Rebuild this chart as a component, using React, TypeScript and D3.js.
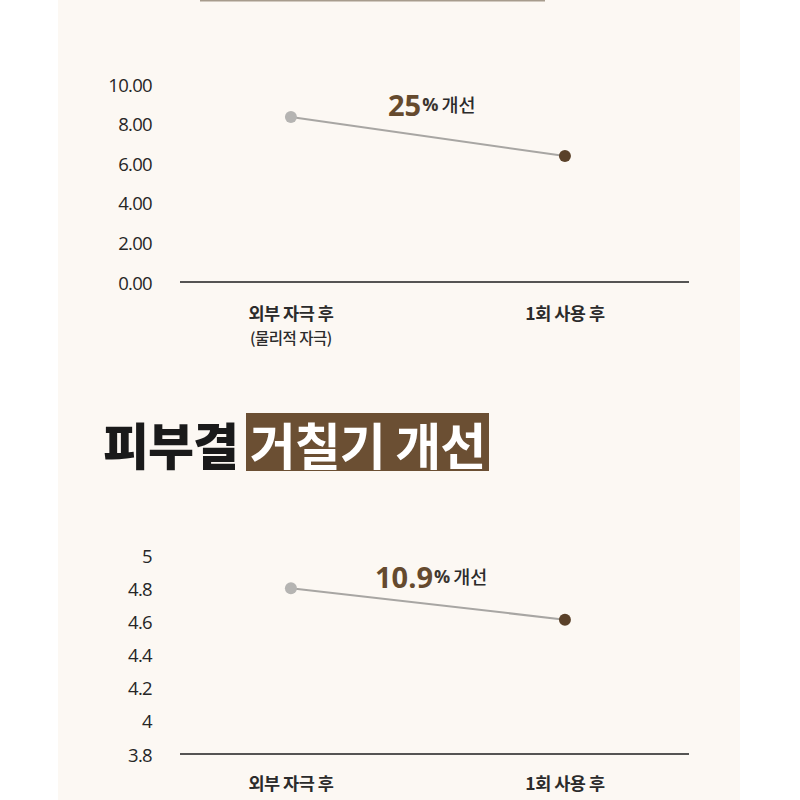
import React from "react";
import * as d3 from "d3";

const categories = ["외부 자극 후", "1회 사용 후"];
const subLabels = ["(물리적 자극)", ""];

const chart1Values = [8.33, 6.36];
const chart1Ticks = [0, 2, 4, 6, 8, 10];
const chart1Label = { num: "25", unit: "%", text: "개선" };

const chart2Values = [4.8, 4.61];
const chart2Ticks = [3.8, 4, 4.2, 4.4, 4.6, 4.8, 5];
const chart2Label = { num: "10.9", unit: "%", text: "개선" };

const titlePlain = "피부결";
const titleBox = "거칠기 개선";

const KR = "'Noto Sans CJK KR', 'Noto Sans', sans-serif";
const NUM = "'Open Sans', 'Noto Sans', sans-serif";
const BROWN = "#654a2e";
const DOT_BROWN = "#5a4129";

type ChartProps = {
  values: number[];
  ticks: number[];
  domain: [number, number];
  yRange: [number, number];
  fmt: (v: number) => string;
  label: { num: string; unit: string; text: string };
  labelX: number;
  labelY: number;
  xLabelY: number;
};

function Chart({ values, ticks, domain, yRange, fmt, label, labelX, labelY, xLabelY }: ChartProps) {
  const x = d3.scalePoint<string>().domain(categories).range([180, 689]).padding(0.4288).align(0.472);
  const y = d3.scaleLinear().domain(domain).range(yRange);
  const line = d3
    .line<number>()
    .x((_, i) => x(categories[i]) as number)
    .y((d) => y(d));
  return (
    <g>
      {ticks.map((t) => (
        <text
          key={t}
          x={152}
          y={y(t)}
          textAnchor="end"
          dominantBaseline="central"
          fontFamily={NUM}
          fontWeight={400}
          fontSize={18.5}
          fill="#262626"
          letterSpacing={-0.7}
        >
          {fmt(t)}
        </text>
      ))}
      <line x1={180} x2={689} y1={yRange[0]} y2={yRange[0]} stroke="#1e1e1e" strokeWidth={1.6} />
      <path d={line(values) || ""} fill="none" stroke="#a8a6a3" strokeWidth={2} />
      {values.map((v, i) => (
        <circle
          key={i}
          cx={x(categories[i]) as number}
          cy={y(v)}
          r={6}
          fill={i === 0 ? "#b5b4b2" : DOT_BROWN}
        />
      ))}
      <text x={labelX} y={labelY} fontFamily={NUM} dominantBaseline="central">
        <tspan fontSize={29} fontWeight={700} fill={BROWN}>
          {label.num}
        </tspan>
        <tspan fontSize={18} fontWeight={700} fill="#3a3530" dx={1}>
          {label.unit}
        </tspan>
        <tspan fontFamily={KR} fontSize={18.5} fontWeight={500} fill="#2b2b2b" dx={3}>
          {label.text}
        </tspan>
      </text>
      {categories.map((c, i) => (
        <g key={c}>
          <text
            x={x(c) as number}
            y={xLabelY}
            textAnchor="middle"
            dominantBaseline="central"
            fontFamily={KR}
            fontWeight={700}
            fontSize={17.5}
            fill="#2b2b2b"
            letterSpacing={-0.5}
          >
            {c}
          </text>
          {subLabels[i] && (
            <text
              x={x(c) as number}
              y={xLabelY + 25}
              textAnchor="middle"
              dominantBaseline="central"
              fontFamily={KR}
              fontWeight={500}
              fontSize={15.5}
              fill="#2b2b2b"
              letterSpacing={-0.5}
            >
              {subLabels[i]}
            </text>
          )}
        </g>
      ))}
    </g>
  );
}

export default function App() {
  return (
    <svg
      width={800}
      height={800}
      style={{ position: "absolute", left: 0, top: 0, background: "#ffffff" }}
    >
      <rect x={58} y={0} width={682} height={800} fill="#fcf8f3" />
      <rect x={200} y={-2} width={345} height={3.5} fill="#a79c8d" />
      <Chart
        values={chart1Values}
        ticks={chart1Ticks}
        domain={[0, 10]}
        yRange={[282, 84]}
        fmt={(v) => v.toFixed(2)}
        label={chart1Label}
        labelX={388}
        labelY={104}
        xLabelY={312}
      />
      <text
        x={103}
        y={443}
        dominantBaseline="central"
        fontFamily={KR}
        fontWeight={900}
        fontSize={50}
        fill="#1a1a1a"
        letterSpacing={-1}
      >
        {titlePlain}
      </text>
      <rect x={246} y={413} width={243} height={58} fill="#6b4f33" />
      <text
        x={367.5}
        y={443}
        textAnchor="middle"
        dominantBaseline="central"
        fontFamily={KR}
        fontWeight={700}
        fontSize={50}
        fill="#ffffff"
        letterSpacing={-1}
      >
        {titleBox}
      </text>
      <Chart
        values={chart2Values}
        ticks={chart2Ticks}
        domain={[3.8, 5]}
        yRange={[754, 555]}
        fmt={(v) => d3.format("~g")(+v.toFixed(1))}
        label={chart2Label}
        labelX={375}
        labelY={576}
        xLabelY={782}
      />
    </svg>
  );
}
